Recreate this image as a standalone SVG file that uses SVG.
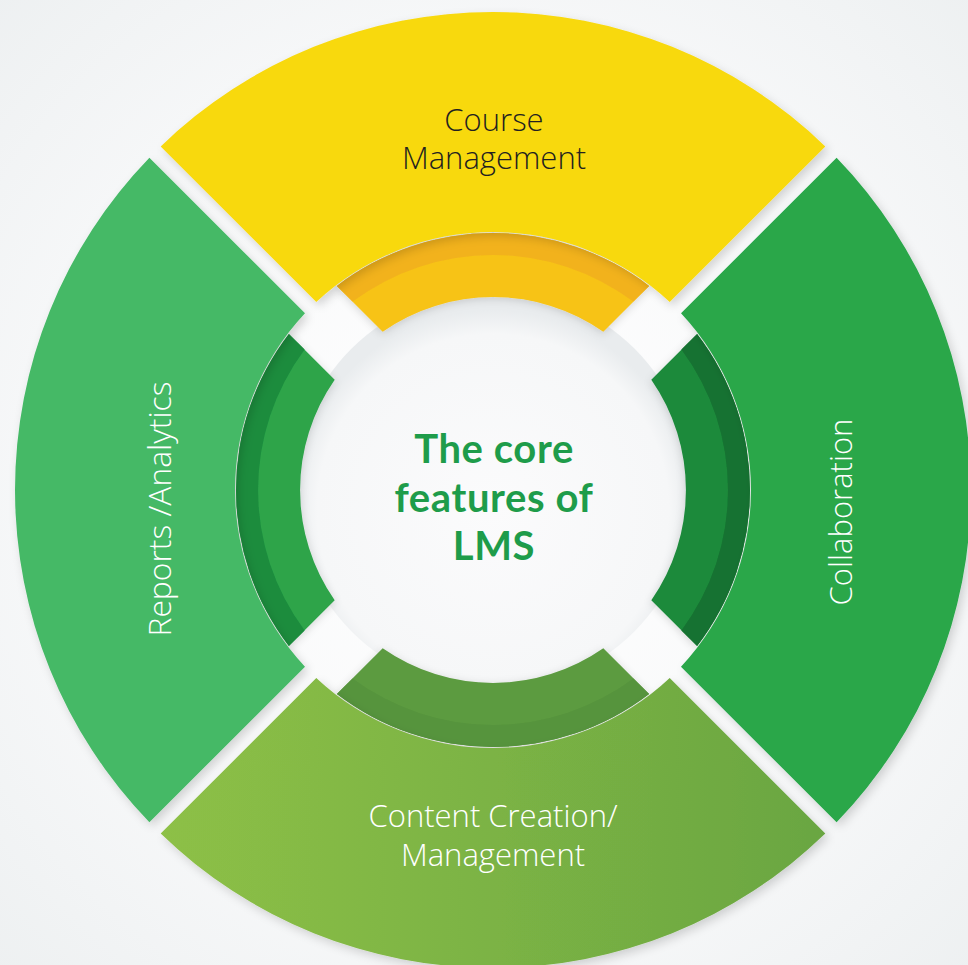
<svg xmlns="http://www.w3.org/2000/svg" width="968" height="965" viewBox="0 0 968 965">
  <defs>
    <radialGradient id="bg" cx="0.5" cy="0.5" r="0.75">
      <stop offset="0" stop-color="#FFFFFF"/>
      <stop offset="0.6" stop-color="#F7F8F9"/>
      <stop offset="1" stop-color="#ECEFF0"/>
    </radialGradient>
    <radialGradient id="hub" cx="0.5" cy="0.55" r="0.5">
      <stop offset="0" stop-color="#FBFBFC"/>
      <stop offset="0.88" stop-color="#F6F7F8"/>
      <stop offset="1" stop-color="#E9ECEE"/>
    </radialGradient>
    <linearGradient id="gBottom" x1="0" y1="0" x2="1" y2="0">
      <stop offset="0" stop-color="#8DC046"/>
      <stop offset="1" stop-color="#6AA642"/>
    </linearGradient>
    <filter id="shadow" x="-10%" y="-10%" width="120%" height="120%">
      <feDropShadow dx="3" dy="4" stdDeviation="5" flood-color="#000000" flood-opacity="0.16"/>
    </filter>
    <filter id="bandShadow" x="-10%" y="-10%" width="120%" height="120%">
      <feDropShadow dx="0" dy="2" stdDeviation="4" flood-color="#000000" flood-opacity="0.15"/>
    </filter>
  </defs>
  <style>
    .lbl { font-family: "Open Sans", "Liberation Sans", sans-serif; font-size: 31px; font-weight: 300; text-anchor: middle; }
    .dark { fill: #231F20; }
    .light { fill: #FFFFFF; }
    .title { font-family: Lato, "Open Sans", "Liberation Sans", sans-serif; font-size: 40px; font-weight: 700; letter-spacing: 0.6px; fill: #1E9C4A; text-anchor: middle; }
    .seg { filter: url(#shadow); }
    .band { filter: url(#bandShadow); }
  </style>

  <rect x="0" y="0" width="968" height="965" fill="url(#bg)"/>

  <!-- center hub -->
  <g id="node-center">
    <circle cx="493" cy="490" r="200" fill="url(#hub)"/>
    <text class="title" x="494" y="463">The core</text>
    <text class="title" x="494" y="512">features of</text>
    <text class="title" x="494" y="560">LMS</text>
  </g>

  <!-- Course Management (top) -->
  <g id="node-course">
    <g class="band">
      <path d="M336.9,285.9 A257,257 0 0 1 649.1,285.9 L603.3,331.7 A193,193 0 0 0 382.7,331.7 Z" fill="#F7C316"/>
      <path d="M336.9,285.9 A257,257 0 0 1 649.1,285.9 L633.4,301.6 A235,235 0 0 0 352.6,301.6 Z" fill="#F2B21E"/>
    </g>
    <path class="seg" d="M160.7,146.4 A478,478 0 0 1 825.3,146.4 L669.7,302 A258,258 0 0 0 316.3,302 Z" fill="#F8D90F"/>
    <text class="lbl dark" x="494" y="131">Course</text>
    <text class="lbl dark" x="494" y="169">Management</text>
  </g>

  <!-- Collaboration (right) -->
  <g id="node-collaboration">
    <g class="band">
      <path d="M697.1,333.9 A257,257 0 0 1 697.1,646.1 L651.3,600.3 A193,193 0 0 0 651.3,379.7 Z" fill="#1C8A3B"/>
      <path d="M697.1,333.9 A257,257 0 0 1 697.1,646.1 L681.4,630.4 A235,235 0 0 0 681.4,349.6 Z" fill="#177231"/>
    </g>
    <path class="seg" d="M836.6,157.7 A478,478 0 0 1 836.6,822.3 L681,666.7 A258,258 0 0 0 681,313.3 Z" fill="#29A74A"/>
    <text class="lbl light" transform="translate(852,512) rotate(-90)" x="0" y="0">Collaboration</text>
  </g>

  <!-- Content Creation / Management (bottom) -->
  <g id="node-content">
    <g class="band">
      <path d="M649.1,694.1 A257,257 0 0 1 336.9,694.1 L382.7,648.3 A193,193 0 0 0 603.3,648.3 Z" fill="#5C9B40"/>
      <path d="M649.1,694.1 A257,257 0 0 1 336.9,694.1 L352.6,678.4 A235,235 0 0 0 633.4,678.4 Z" fill="#57943D"/>
    </g>
    <path class="seg" d="M825.3,833.6 A478,478 0 0 1 160.7,833.6 L316.3,678 A258,258 0 0 0 669.7,678 Z" fill="url(#gBottom)"/>
    <text class="lbl light" x="493" y="827">Content Creation/</text>
    <text class="lbl light" x="493" y="866">Management</text>
  </g>

  <!-- Reports / Analytics (left) -->
  <g id="node-reports">
    <g class="band">
      <path d="M288.9,646.1 A257,257 0 0 1 288.9,333.9 L334.7,379.7 A193,193 0 0 0 334.7,600.3 Z" fill="#2DA449"/>
      <path d="M288.9,646.1 A257,257 0 0 1 288.9,333.9 L304.6,349.6 A235,235 0 0 0 304.6,630.4 Z" fill="#1B8C3E"/>
    </g>
    <path class="seg" d="M149.4,822.3 A478,478 0 0 1 149.4,157.7 L305,313.3 A258,258 0 0 0 305,666.7 Z" fill="#45B966"/>
    <text class="lbl light" transform="translate(171,509) rotate(-90)" x="0" y="0" textLength="255" lengthAdjust="spacingAndGlyphs">Reports /Analytics</text>
  </g>

  <g id="connectors"/>
</svg>
